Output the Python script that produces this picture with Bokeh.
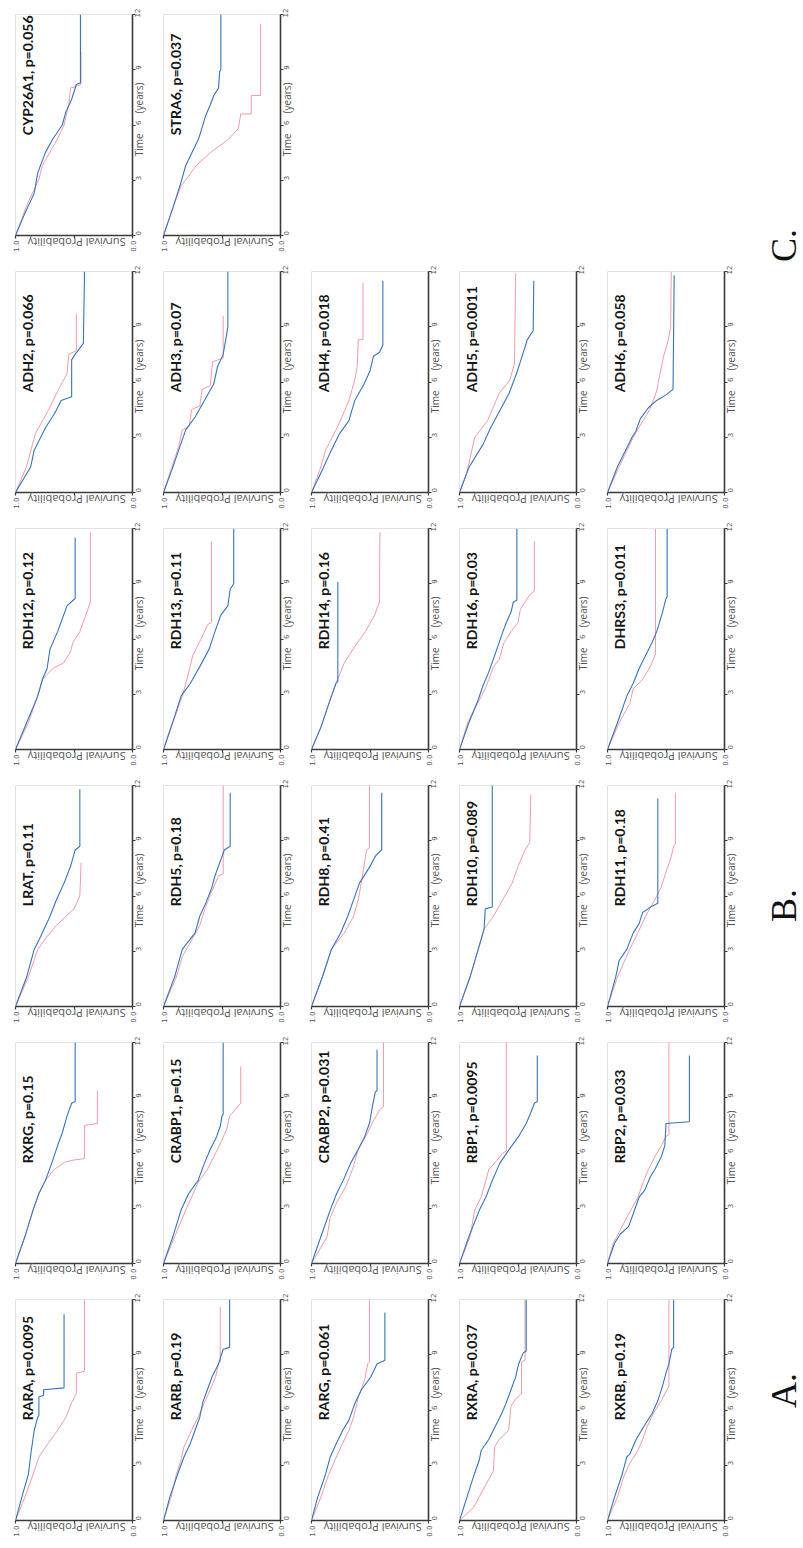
import math
from bokeh.plotting import figure
from bokeh.layouts import row, column
from bokeh.models import Range1d, FixedTicker, Label, Spacer, ColumnDataSource, LinearAxis
from bokeh.core.properties import value
from bokeh.embed import file_html
from bokeh.resources import INLINE

BLUE = "#3374c2"
PINK = "#f29aa5"

# ---- panel layout (rows of the rotated figure, top to bottom) ----
GENE_ROWS = [
    ["CYP26A1", "STRA6"],
    ["ADH2", "ADH3", "ADH4", "ADH5", "ADH6"],
    ["RDH12", "RDH13", "RDH14", "RDH16", "DHRS3"],
    ["LRAT", "RDH5", "RDH8", "RDH10", "RDH11"],
    ["RXRG", "CRABP1", "CRABP2", "RBP1", "RBP2"],
    ["RARA", "RARB", "RARG", "RXRA", "RXRB"],
]
PVAL_ROWS = [
    ["0.056", "0.037"],
    ["0.066", "0.07", "0.018", "0.0011", "0.058"],
    ["0.12", "0.11", "0.16", "0.03", "0.011"],
    ["0.11", "0.18", "0.41", "0.089", "0.18"],
    ["0.15", "0.15", "0.031", "0.0095", "0.033"],
    ["0.0095", "0.19", "0.061", "0.037", "0.19"],
]
PANEL_LETTERS = ["C.", "B.", "A."]
TIME_TICKS = [0, 3, 6, 9, 12]
SURV_TICKS = [0.0, 0.5, 1.0]
SURV_TICK_TEXT = {0: "0.0", 0.5: "", 1: "1.0"}
SURV_TITLE = "Survival Probability"
TIME_TITLE = "Time\u2003\u2003(years)"

# ---- Kaplan-Meier curves: (time in years, survival probability) ----
CYP26A1_BLUE = [(0,1),(1.2,.92),(2.3,.84),(3.4,.81),(4.5,.745),(5.25,.68),(6.0,.60),(6.7,.57),(7.4,.52),(8.2,.48),(8.3,.445),(12,.445)]
CYP26A1_PINK = [(0,1),(1.6,.906),(3.06,.80),(3.8,.77),(4.7,.69),(5.25,.64),(6.0,.585),(7.1,.545),(8.0,.53),(8.2,.44),(10,.44)]
STRA6_BLUE = [(0,1),(1.5,.92),(2.9,.85),(3.8,.81),(5.25,.70),(6.5,.64),(7.1,.60),(7.6,.57),(8.0,.53),(8.9,.52),(9.0,.51),(12,.51)]
STRA6_PINK = [(0,1),(1.5,.92),(2.7,.85),(3.1,.80),(3.8,.72),(4.5,.60),(5.2,.45),(5.8,.36),(6.6,.34),(6.6,.25),(7.6,.25),(7.6,.17),(11.5,.17)]

ADH2_BLUE = [(0,1),(1.4,.87),(2.3,.84),(3.5,.745),(4.3,.665),(5.0,.61),(5.2,.52),(7.2,.52),(7.5,.49),(8.1,.42),(12,.41)]
ADH2_PINK = [(0,1),(1.4,.906),(3.2,.83),(4.45,.72),(5.5,.64),(6.45,.56),(7.5,.545),(7.7,.48),(9.7,.48)]
ADH3_BLUE = [(0,1),(1.2,.93),(2.3,.87),(3.4,.81),(4.1,.73),(5.0,.65),(5.9,.57),(6.8,.54),(7.5,.49),(8.6,.46),(9.0,.45),(12,.45)]
ADH3_PINK = [(0,1),(2.5,.87),(3.4,.84),(3.6,.78),(4.5,.76),(4.7,.69),(5.6,.67),(5.8,.60),(7.1,.58),(7.3,.49),(9.6,.49)]
ADH4_BLUE = [(0,1),(1.2,.91),(2.3,.83),(3.2,.76),(3.9,.68),(5.0,.63),(5.9,.55),(6.6,.50),(7.4,.47),(7.6,.42),(8.0,.39),(11.5,.39)]
ADH4_PINK = [(0,1),(1.2,.93),(2.3,.88),(3.4,.79),(4.1,.74),(5.0,.68),(6.1,.63),(6.8,.61),(8.3,.60),(8.3,.56),(11.4,.56)]
ADH5_BLUE = [(0,1),(1.36,.92),(2.6,.80),(3.5,.735),(4.45,.655),(5.4,.575),(6.5,.51),(7.5,.46),(8.3,.42),(8.8,.37),(11.5,.365)]
ADH5_PINK = [(0,1),(1.0,.94),(3.0,.87),(3.9,.76),(5.4,.66),(6.1,.57),(7.0,.53),(11.9,.52)]
ADH6_BLUE = [(0,1),(1.4,.915),(3.0,.79),(3.3,.76),(4.0,.72),(4.6,.65),(5.0,.58),(5.3,.50),(5.6,.44),(11.8,.43)]
ADH6_PINK = [(0,1),(1.4,.90),(3.0,.78),(4.5,.64),(5.5,.58),(6.5,.55),(7.4,.52),(8.3,.48),(9.0,.46),(12,.455)]

RDH12_BLUE = [(0,1),(1.45,.905),(2.9,.81),(3.8,.77),(4.4,.73),(5.45,.705),(6.4,.64),(7.1,.60),(7.8,.56),(8.2,.49),(11.5,.49)]
RDH12_PINK = [(0,1),(1.45,.89),(2.9,.81),(3.8,.77),(4.4,.68),(4.7,.59),(5.3,.53),(5.8,.51),(6.4,.45),(7.1,.41),(8.0,.36),(11.8,.36)]
RDH13_BLUE = [(0,1),(1.8,.905),(2.9,.85),(3.6,.77),(4.5,.69),(5.45,.61),(6.4,.56),(7.3,.51),(7.8,.45),(8.7,.43),(9.0,.40),(12,.40)]
RDH13_PINK = [(0,1),(1.8,.90),(2.9,.84),(3.8,.80),(5.1,.75),(6.0,.68),(6.8,.62),(6.9,.59),(11.3,.59)]
RDH14_BLUE = [(0,1),(1.2,.92),(2.9,.83),(3.6,.79),(3.7,.775),(9.1,.775)]
RDH14_PINK = [(0,1),(1.2,.92),(2.9,.83),(3.6,.79),(4.7,.72),(5.5,.64),(6.4,.54),(7.3,.46),(8.0,.42),(11.8,.415)]
RDH16_BLUE = [(0,1),(1.45,.92),(2.7,.84),(3.45,.80),(4.2,.75),(5.1,.70),(6.2,.64),(6.9,.60),(7.45,.56),(8.0,.54),(8.1,.51),(12,.51)]
RDH16_PINK = [(0,1),(1.45,.93),(2.2,.87),(3.3,.78),(3.8,.75),(4.5,.71),(4.9,.66),(5.8,.62),(6.4,.56),(6.9,.50),(7.6,.48),(8.4,.40),(8.6,.36),(11.3,.36)]
DHRS3_BLUE = [(0,1),(1.45,.915),(2.9,.835),(3.6,.78),(4.4,.73),(5.1,.675),(5.8,.62),(6.4,.58),(6.9,.555),(7.45,.53),(8.2,.50),(8.3,.49),(12,.49)]
DHRS3_PINK = [(0,1),(1.45,.90),(2.5,.81),(3.3,.78),(3.8,.70),(4.5,.635),(5.1,.595),(5.2,.59),(12,.59)]

LRAT_BLUE = [(0,1),(1.6,.905),(3.1,.84),(3.8,.785),(4.9,.705),(5.8,.65),(6.7,.585),(7.6,.53),(8.5,.49),(8.7,.45),(11.8,.45)]
LRAT_PINK = [(0,1),(1.6,.89),(3.1,.81),(3.8,.73),(4.4,.65),(4.9,.57),(5.3,.50),(6.0,.45),(7.8,.44)]
RDH5_BLUE = [(0,1),(1.6,.905),(3.1,.84),(4.0,.73),(4.9,.69),(5.6,.64),(6.4,.59),(7.1,.56),(7.8,.52),(8.5,.48),(8.7,.43),(11.6,.43)]
RDH5_PINK = [(0,1),(1.6,.89),(2.7,.84),(3.6,.76),(4.4,.69),(5.4,.64),(6.2,.59),(7.1,.53),(7.2,.49),(12,.49)]
RDH8_BLUE = [(0,1),(1.6,.907),(3.1,.83),(4.0,.75),(4.9,.69),(5.8,.64),(6.7,.59),(7.5,.51),(8.2,.45),(8.5,.40),(11.6,.40)]
RDH8_PINK = [(0,1),(1.6,.907),(3.1,.83),(4.0,.72),(4.9,.64),(5.8,.60),(6.7,.575),(8.5,.53),(8.6,.505),(12,.505)]
RDH10_BLUE = [(0,1),(1.6,.91),(3.1,.84),(4.2,.79),(5.3,.78),(5.4,.72),(12,.72)]
RDH10_PINK = [(0,1),(1.6,.91),(3.1,.84),(4.2,.79),(4.9,.71),(5.8,.63),(6.7,.55),(7.6,.50),(8.5,.44),(8.9,.40),(11.5,.39)]
RDH11_BLUE = [(0,1),(1.6,.93),(2.5,.90),(3.1,.835),(4.0,.78),(4.5,.73),(5.1,.70),(5.45,.62),(5.6,.57),(11.3,.57)]
RDH11_PINK = [(0,1),(1.6,.915),(3.1,.81),(4.0,.74),(4.9,.675),(5.8,.595),(6.5,.54),(7.5,.49),(8.0,.46),(8.7,.435),(8.8,.42),(11.6,.42)]

RXRG_BLUE = [(0,1),(1.45,.92),(2.9,.85),(3.8,.80),(4.5,.745),(5.45,.69),(6.4,.64),(7.1,.60),(8.0,.56),(8.7,.52),(8.8,.49),(12,.49)]
RXRG_PINK = [(0,1),(1.45,.92),(2.9,.85),(3.8,.80),(4.5,.745),(5.1,.67),(5.5,.58),(5.6,.52),(5.7,.41),(7.5,.41),(7.6,.30),(9.4,.30)]
CRABP1_BLUE = [(0,1),(1.45,.92),(2.9,.85),(3.8,.785),(4.5,.705),(5.45,.65),(6.2,.60),(6.9,.545),(7.45,.515),(8.0,.50),(8.1,.49),(12,.49)]
CRABP1_PINK = [(0,1),(1.45,.905),(2.9,.81),(3.6,.76),(4.4,.705),(5.1,.625),(5.8,.57),(6.5,.515),(7.3,.46),(8.0,.435),(8.7,.34),(10.7,.34)]
CRABP2_BLUE = [(0,1),(1.45,.92),(2.9,.84),(3.8,.785),(4.5,.73),(5.45,.665),(6.2,.60),(6.9,.545),(7.6,.505),(8.5,.48),(9.3,.455),(9.4,.44),(11.6,.44)]
CRABP2_PINK = [(0,1),(1.45,.867),(2.5,.84),(3.3,.785),(4.2,.705),(5.1,.65),(6.2,.60),(7.1,.52),(7.8,.467),(8.4,.41),(8.5,.385),(12,.385)]
RBP1_BLUE = [(0,1),(1.45,.92),(2.9,.83),(3.6,.775),(4.5,.72),(5.45,.655),(6.2,.575),(6.9,.495),(7.6,.43),(8.2,.39),(8.7,.36),(8.8,.335),(11.3,.335)]
RBP1_PINK = [(0,1),(1.45,.91),(2.9,.87),(3.6,.815),(4.5,.775),(5.1,.75),(5.6,.68),(6.0,.63),(6.1,.60),(12,.60)]
RBP2_BLUE = [(0,1),(1.1,.94),(1.6,.89),(2.0,.82),(2.7,.78),(3.6,.73),(4.0,.68),(4.7,.635),(5.1,.595),(5.8,.54),(6.4,.51),(7.6,.50),(7.7,.30),(11.3,.30)]
RBP2_PINK = [(0,1),(1.1,.95),(2.5,.835),(3.6,.74),(4.5,.69),(5.1,.65),(5.8,.595),(6.4,.54),(6.9,.50),(7.0,.475),(12,.475)]

RARA_BLUE = [(0,1),(1.27,.946),(2.5,.89),(3.8,.865),(4.9,.84),(5.6,.81),(5.7,.80),(6.7,.80),(6.8,.76),(7.1,.76),(7.2,.585),(11.2,.585)]
RARA_PINK = [(0,1),(1.27,.92),(2.5,.85),(3.45,.80),(4.2,.72),(4.9,.64),(5.6,.57),(6.4,.52),(6.9,.48),(8.0,.48),(8.1,.41),(12,.41)]
RARB_BLUE = [(0,1),(1.27,.946),(2.5,.88),(3.45,.825),(4.2,.77),(4.9,.73),(5.6,.69),(6.4,.665),(7.1,.625),(7.8,.585),(8.5,.53),(9.3,.49),(9.4,.435),(12,.435)]
RARB_PINK = [(0,1),(1.27,.935),(2.5,.89),(3.3,.85),(4.0,.825),(4.9,.76),(5.6,.705),(6.4,.65),(7.1,.60),(7.8,.555),(8.5,.53),(8.6,.515),(11.6,.515)]
RARG_BLUE = [(0,1),(1.27,.947),(2.5,.88),(3.45,.84),(4.2,.787),(4.9,.733),(5.45,.68),(6.4,.627),(7.1,.573),(7.8,.493),(8.5,.44),(8.7,.373),(11.3,.373)]
RARG_PINK = [(0,1),(1.27,.92),(2.5,.853),(3.45,.787),(4.2,.733),(4.9,.68),(5.6,.64),(6.7,.60),(7.6,.547),(8.5,.52),(8.6,.505),(12,.505)]
RXRA_BLUE = [(0,1),(1.27,.936),(2.4,.88),(3.3,.83),(3.8,.815),(4.4,.75),(5.1,.695),(5.8,.64),(6.4,.60),(7.1,.56),(7.8,.52),(8.5,.495),(9.1,.455),(9.2,.43),(12,.43)]
RXRA_PINK = [(0,1),(0.7,.88),(1.3,.83),(2.0,.77),(2.7,.71),(4.0,.70),(4.4,.66),(4.9,.58),(6.2,.56),(6.6,.52),(6.9,.47),(8.6,.47),(8.7,.44),(12,.44)]
RXRB_BLUE = [(0,1),(1.27,.94),(2.5,.875),(3.45,.835),(3.6,.81),(4.4,.755),(5.1,.69),(5.8,.62),(6.5,.57),(7.3,.53),(8.0,.50),(8.5,.475),(9.3,.45),(9.4,.435),(12,.435)]
RXRB_PINK = [(0,1),(1.27,.915),(2.4,.86),(3.1,.81),(3.8,.74),(4.4,.70),(5.1,.66),(5.8,.61),(6.5,.54),(7.3,.475),(12,.475)]

CURVES = {
    "CYP26A1": (CYP26A1_BLUE, CYP26A1_PINK), "STRA6": (STRA6_BLUE, STRA6_PINK),
    "ADH2": (ADH2_BLUE, ADH2_PINK), "ADH3": (ADH3_BLUE, ADH3_PINK), "ADH4": (ADH4_BLUE, ADH4_PINK),
    "ADH5": (ADH5_BLUE, ADH5_PINK), "ADH6": (ADH6_BLUE, ADH6_PINK),
    "RDH12": (RDH12_BLUE, RDH12_PINK), "RDH13": (RDH13_BLUE, RDH13_PINK), "RDH14": (RDH14_BLUE, RDH14_PINK),
    "RDH16": (RDH16_BLUE, RDH16_PINK), "DHRS3": (DHRS3_BLUE, DHRS3_PINK),
    "LRAT": (LRAT_BLUE, LRAT_PINK), "RDH5": (RDH5_BLUE, RDH5_PINK), "RDH8": (RDH8_BLUE, RDH8_PINK),
    "RDH10": (RDH10_BLUE, RDH10_PINK), "RDH11": (RDH11_BLUE, RDH11_PINK),
    "RXRG": (RXRG_BLUE, RXRG_PINK), "CRABP1": (CRABP1_BLUE, CRABP1_PINK), "CRABP2": (CRABP2_BLUE, CRABP2_PINK),
    "RBP1": (RBP1_BLUE, RBP1_PINK), "RBP2": (RBP2_BLUE, RBP2_PINK),
    "RARA": (RARA_BLUE, RARA_PINK), "RARB": (RARB_BLUE, RARB_PINK), "RARG": (RARG_BLUE, RARG_PINK),
    "RXRA": (RXRA_BLUE, RXRA_PINK), "RXRB": (RXRB_BLUE, RXRB_PINK),
}

PANEL_W = 148
PANEL_H = 257
LAST_H = 253
AXIS_COLOR = "#3a3a3a"
LABEL_COLOR = "#555555"
SURV_TITLE_AT = 0.895   # survival value where the (upside-down) axis title is anchored
TIME_TITLE_AT = 4.3     # time value where the axis title starts


def title_axis(ticks, text, orientation, standoff, size):
    return LinearAxis(ticker=FixedTicker(ticks=ticks),
                      major_label_overrides={ticks[0]: text},
                      major_label_orientation=orientation,
                      major_label_standoff=standoff,
                      major_label_text_font="Open Sans",
                      major_label_text_font_size=size,
                      major_label_text_color=LABEL_COLOR,
                      axis_line_color=None, major_tick_line_color=None,
                      minor_tick_line_color=None, major_tick_out=0, major_tick_in=0)


def make_panel(gene, pval, height, bottom):
    p = figure(width=PANEL_W, height=height,
               x_range=Range1d(1.0, 0.0), y_range=Range1d(0, 12),
               x_axis_location="below", y_axis_location="right",
               toolbar_location=None, output_backend="svg",
               min_border_left=7, min_border_right=17,
               min_border_top=6, min_border_bottom=bottom)
    p.grid.visible = False
    p.outline_line_color = "#e2e2e2"
    p.background_fill_color = "white"
    p.border_fill_color = "white"

    xa = p.xaxis[0]
    ya = p.yaxis[0]
    xa.ticker = FixedTicker(ticks=SURV_TICKS)
    xa.major_label_overrides = SURV_TICK_TEXT
    ya.ticker = FixedTicker(ticks=TIME_TICKS)
    for ax in (xa, ya):
        ax.axis_line_color = AXIS_COLOR
        ax.axis_line_width = 1.6
        ax.major_tick_line_color = AXIS_COLOR
        ax.major_tick_line_width = 1.2
        ax.major_tick_out = 3
        ax.major_tick_in = 0
        ax.minor_tick_line_color = None
        ax.major_label_text_font_size = "7px"
        ax.major_label_text_color = LABEL_COLOR
        ax.major_label_text_font = "DejaVu Sans"
        ax.major_label_orientation = math.pi / 2
        ax.major_label_standoff = 2

    # axis titles sit in the same row as the tick labels (as in the reference)
    p.add_layout(title_axis([SURV_TITLE_AT], SURV_TITLE, math.pi, -12, "11px"), "below")
    p.add_layout(title_axis([TIME_TITLE_AT], TIME_TITLE, math.pi / 2, -7, "10px"), "right")

    blue, pink = CURVES[gene]
    p.line([s for t, s in pink], [t for t, s in pink], line_color=PINK, line_width=1.0)
    p.line([s for t, s in blue], [t for t, s in blue], line_color=BLUE, line_width=1.1)

    p.add_layout(Label(x=0.895, y=5.45, text=f"{gene}, p={pval}", angle=math.pi / 2,
                       text_font="Lato", text_font_style="bold", text_font_size="14px",
                       text_color="#151515", text_align="left", text_baseline="middle"))
    return p


rows = [Spacer(width=5 * PANEL_W, height=8)]
n_rows = len(GENE_ROWS)
for r, (genes, pvals) in enumerate(zip(GENE_ROWS, PVAL_ROWS)):
    last = (r == n_rows - 1)
    h = LAST_H if last else PANEL_H
    b = h - 6 - 221
    figs = [make_panel(g, pv, h, b) for g, pv in zip(genes, pvals)]
    if len(figs) < 5:
        figs.append(Spacer(width=PANEL_W * (5 - len(figs)), height=h))
    rows.append(row(*figs))

grid = column(*rows)
TOTAL_H = 8 + PANEL_H * (n_rows - 1) + LAST_H

lab = figure(width=55, height=TOTAL_H, x_range=Range1d(0, 55), y_range=Range1d(TOTAL_H, 0),
             toolbar_location=None, output_backend="svg", min_border=0,
             x_axis_type=None, y_axis_type=None)
lab.outline_line_color = None
lab.grid.visible = False
letter_src = ColumnDataSource(dict(x=[35, 35, 35], y=[245, 905, 1390], t=PANEL_LETTERS))
lab.text("x", "y", "t", source=letter_src, angle=math.pi / 2,
         text_font=value("Liberation Serif"), text_font_size="36px",
         text_align="center", text_baseline="middle", text_color="#111111")

layout = row(Spacer(width=8, height=TOTAL_H), grid, lab)
open("out.html", "w").write(file_html(layout, INLINE))
